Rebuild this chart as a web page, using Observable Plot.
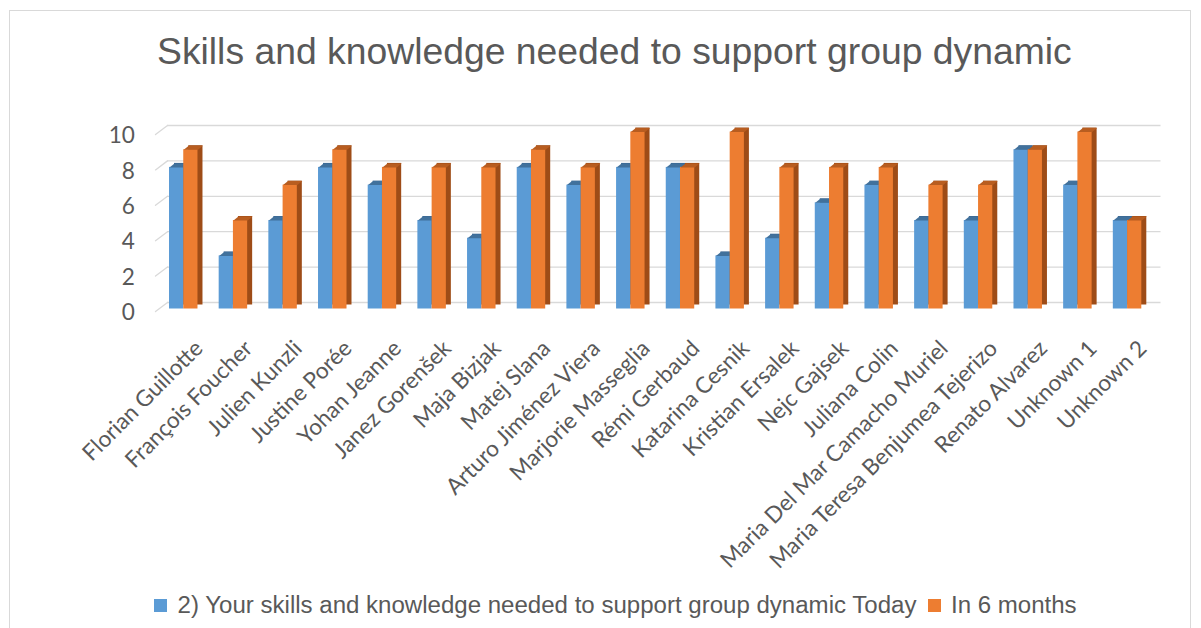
<!DOCTYPE html>
<html>
<head>
<meta charset="utf-8">
<script src="https://cdn.jsdelivr.net/npm/d3@7"></script>
<script src="https://cdn.jsdelivr.net/npm/@observablehq/plot@0.6"></script>
<style>
  html, body { margin: 0; padding: 0; background: #fff; overflow: hidden; }
  #page { position: relative; width: 1201px; height: 628px; overflow: hidden; }
  #frame { position: absolute; left: 9px; top: 10px; width: 1182px; height: 700px; border: 1px solid #d9d9d9; box-sizing: border-box; }
  .txt { position: absolute; white-space: nowrap; line-height: 1; color: #595959; font-family: "Liberation Sans", Arial, sans-serif; }
  .sw { position: absolute; width: 13px; height: 13px; }
  #chart { position: absolute; left: 0; top: 90px; }
</style>
</head>
<body>
<div id="page">
  <div id="frame"></div>
  <div id="title" class="txt"></div>
  <div id="chart"></div>
  <div id="sw1" class="sw"></div>
  <div id="lg1" class="txt"></div>
  <div id="sw2" class="sw"></div>
  <div id="lg2" class="txt"></div>
</div>
<script>
// ---- data ----
const names = [
  "Florian Guillotte", "François Foucher", "Julien Kunzli", "Justine Porée",
  "Yohan Jeanne", "Janez Gorenšek", "Maja Bizjak", "Matej Slana",
  "Arturo Jiménez Viera", "Marjorie Masseglia", "Rémi Gerbaud", "Katarina Cesnik",
  "Kristian Ersalek", "Nejc Gajsek", "Juliana Colin", "Maria Del Mar Camacho Muriel",
  "Maria Teresa Benjumea Tejerizo", "Renato Alvarez", "Unknown 1", "Unknown 2"
];
const today     = [8, 3, 5, 8, 7, 5, 4, 8, 7, 8, 8, 3, 4, 6, 7, 5, 5, 9, 7, 5];
const sixMonths = [9, 5, 7, 9, 8, 8, 8, 9, 8, 10, 8, 10, 8, 8, 8, 7, 7, 9, 10, 5];
const yTicks = [0, 2, 4, 6, 8, 10];
const seriesNames = ["2) Your skills and knowledge needed to support group dynamic Today", "In 6 months"];
const titleText = "Skills and knowledge needed to support group dynamic";

// ---- style ----
const blue = "#5b9bd5", blueTop = "#41719c", blueSide = "#3a6691";
const orange = "#ed7d31", orangeTop = "#b85d20", orangeSide = "#9e4c17";
const textColor = "#595959", gridColor = "#d9d9d9";

const data = names.map((n, i) => ({name: n, today: today[i], later: sixMonths[i]}));

// font calibration via canvas
const ctx = document.createElement("canvas").getContext("2d");
function w1(text, family) { ctx.font = `100px ${family}`; return ctx.measureText(text).width / 100; }
const labelFs = (157.5 + 314) / (w1("Florian Guillotte", "Lato") + w1("Maria Teresa Benjumea Tejerizo", "Lato"));
const titleFs = 915 / w1(titleText, '"Liberation Sans"');
const legendFs = 740 / w1(seriesNames[0], '"Liberation Sans"');

// title
const t = document.getElementById("title");
t.textContent = titleText;
t.style.fontSize = titleFs + "px";
t.style.left = "157px";
t.style.top = (65 - 0.8465 * titleFs) + "px";

// legend
const lg1 = document.getElementById("lg1"), lg2 = document.getElementById("lg2");
lg1.textContent = seriesNames[0]; lg2.textContent = seriesNames[1];
for (const el of [lg1, lg2]) { el.style.fontSize = legendFs + "px"; el.style.top = (613.5 - 0.8465 * legendFs) + "px"; }
lg1.style.left = "177.6px"; lg2.style.left = "951px";
const sw1 = document.getElementById("sw1"), sw2 = document.getElementById("sw2");
sw1.style.background = blue; sw2.style.background = orange;
sw1.style.left = "154px"; sw2.style.left = "928px";
sw1.style.top = "599px"; sw2.style.top = "599px";

// geometry helpers (pixels)
const barW = 14.23, depthX = 5, depthY = -4;
// slant line shape for 3D gridline connectors
const lineShape = { draw(context, l) { context.moveTo(0, 0); context.lineTo(0, -l); } };
// top face of a 3D bar: parallelogram whose front edge ends at the anchor
const topFace = { draw(context) {
  context.moveTo(-barW, 0); context.lineTo(0, 0);
  context.lineTo(depthX, depthY); context.lineTo(depthX - barW, depthY); context.closePath();
} };

const chart = Plot.plot({
  width: 1201,
  height: 490,
  marginLeft: 158.4,
  marginRight: 49.1,
  marginTop: 41.5,
  marginBottom: 271.5,
  x: {domain: names, padding: 0, round: false, axis: null},
  y: {domain: [0, 10], axis: null},
  style: {fontFamily: "Lato, sans-serif", color: textColor, background: "transparent", overflow: "visible"},
  marks: [
    Plot.ruleY(yTicks, {dx: 8.6, dy: -6.5, stroke: gridColor, strokeWidth: 1.3}),
    Plot.vector(yTicks, {y: d => d, frameAnchor: "left", dx: -3.4, dy: 2.5, length: 15, rotate: 53, anchor: "start", shape: lineShape, stroke: gridColor, strokeWidth: 1.3}),
    // Today series
    Plot.barY(data, {x: "name", y: "today", insetLeft: 10.6, insetRight: 24.85, dx: depthX, dy: depthY, fill: blueSide}),
    Plot.barY(data, {x: "name", y: "today", insetLeft: 10.6, insetRight: 24.85, fill: blue}),
    Plot.vector(data, {x: "name", y: "today", length: 1, rotate: 0, anchor: "start", shape: topFace, fill: blueTop, stroke: null}),
    // In 6 months series
    Plot.barY(data, {x: "name", y: "later", insetLeft: 24.85, insetRight: 10.6, dx: depthX, dy: depthY, fill: orangeSide}),
    Plot.barY(data, {x: "name", y: "later", insetLeft: 24.85, insetRight: 10.6, fill: orange}),
    Plot.vector(data, {x: "name", y: "later", length: 1, rotate: 0, anchor: "start", shape: topFace, dx: barW, fill: orangeTop, stroke: null}),
    // labels
    Plot.text(data, {x: "name", text: "name", frameAnchor: "bottom", rotate: -45, textAnchor: "end", lineAnchor: "top", dx: 9, dy: 29.5, fontSize: labelFs, fill: textColor}),
    Plot.text(yTicks, {y: d => d, text: d => String(d), frameAnchor: "left", textAnchor: "end", dx: -24, dy: 4, fontSize: labelFs, fill: textColor})
  ]
});
document.getElementById("chart").appendChild(chart);
</script>
</body>
</html>
